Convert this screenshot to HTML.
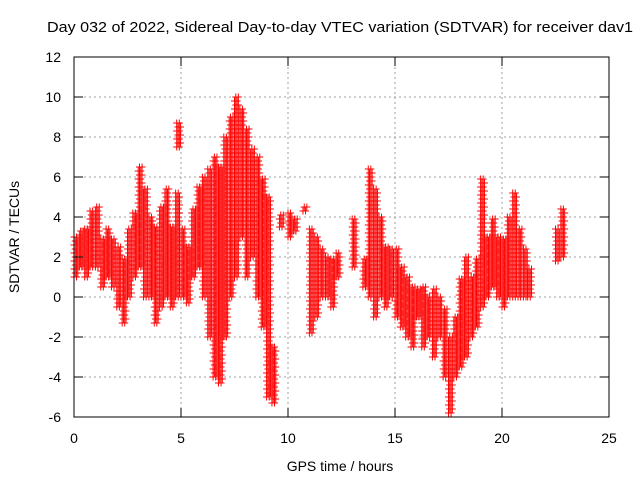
<!DOCTYPE html>
<html><head><meta charset="utf-8"><style>
body{margin:0;background:#fff}
svg{display:block;font-family:"Liberation Sans",sans-serif}
</style></head><body>
<svg id="chart" width="640" height="480" viewBox="0 0 640 480">
<text x="47" y="32" font-size="15" textLength="586" lengthAdjust="spacingAndGlyphs">Day 032 of 2022, Sidereal Day-to-day VTEC variation (SDTVAR) for receiver dav1</text>
<g id="grid"></g>
<g id="marks"></g>
<rect x="74" y="57" width="535" height="360" fill="none" stroke="#000" stroke-width="1"/>
<g id="ticks"></g>
<text x="340" y="471" font-size="14" text-anchor="middle">GPS time / hours</text>
<text x="0" y="0" font-size="14" text-anchor="middle" transform="translate(19,237) rotate(-90)">SDTVAR / TECUs</text>
</svg>
<script>
const xTicks=[0,5,10,15,20,25];
const yTicks=[-6,-4,-2,0,2,4,6,8,10,12];
const times=[0,0.25,0.5,0.75,1,1.25,1.5,1.75,2,2.25,2.5,2.75,3,3.25,3.5,3.75,4,4.25,4.5,4.75,4.8,5,5.25,5.5,5.75,6,6.25,6.5,6.75,7,7.25,7.5,7.75,8,8.25,8.5,8.75,9,9.25,9.6,10,10.25,10.7,11,11.25,11.5,11.75,12,12.25,13,13.5,13.75,14,14.25,14.5,14.75,15,15.25,15.5,15.75,16,16.25,16.5,16.75,17,17.25,17.5,17.75,18,18.25,18.5,18.75,19,19.25,19.5,19.75,20,20.25,20.5,20.75,21,21.2,22.5,22.75];
const lows=[1,1.5,1,1.5,1.5,0.5,1,0.5,-0.5,-1.3,0,1,1.5,0,0,-1.3,-0.5,0,-0.5,0,7.5,0,-0.3,1,1.5,0,-2,-4,-4.3,-2,0,1,3,1,2,0,-1.5,-5,-5.3,3.5,3,3.3,4.3,-1.8,-1,0,0,-0.5,1,1.5,0.5,0,-1,0,-0.5,0,-1,-1.5,-2,-2.5,-1,-2.5,-2,-3,-2,-4,-5.8,-4,-3.5,-3,-2,-1.5,-0.5,0,0.5,0,-0.5,0,0,0,0,0,1.8,2];
const highs=[3,3.3,3.5,4.3,4.5,3,3.5,3,2.5,2,3.5,4.3,6.5,5.5,4,3.5,4.5,5.5,3.5,5.3,8.8,3.5,2.5,4.5,5.5,6,6.5,7,6.5,8,9,10,9.5,8.5,7.5,7,6,5,-2.5,4.2,4.3,4,4.6,3.5,3,2.5,2,2,2.2,4,2,6.5,5.5,4,2.5,2.5,2.5,1.5,1,0.5,0.5,0.5,0,0.5,0,-0.5,-2,-1,1,2,1,2,6,3,4,3,3,4,5.3,3.5,2.5,1.5,3.5,4.5];
const X=t=>74+t*(535/25);
const Y=v=>297-v*20;
const ns="http://www.w3.org/2000/svg";
const grid=document.getElementById('grid'),ticks=document.getElementById('ticks'),marks=document.getElementById('marks');
function ln(p,x1,y1,x2,y2,st,dash){const l=document.createElementNS(ns,'line');l.setAttribute('x1',x1);l.setAttribute('y1',y1);l.setAttribute('x2',x2);l.setAttribute('y2',y2);l.setAttribute('stroke',st);if(dash)l.setAttribute('stroke-dasharray',dash);p.appendChild(l);return l;}
xTicks.forEach(t=>{const x=X(t);
 if(t>0&&t<25){const g=ln(grid,x,57,x,417,'#a0a0a0','2,3');}
 ln(ticks,x,417,x,408,'#000');ln(ticks,x,57,x,66,'#000');
 const tx=document.createElementNS(ns,'text');tx.setAttribute('x',x);tx.setAttribute('y',443);tx.setAttribute('font-size','14');tx.setAttribute('text-anchor','middle');tx.textContent=t;
 
 
 ticks.appendChild(tx);});
yTicks.forEach(v=>{const y=Y(v);
 if(v>-6&&v<12){const g=ln(grid,74,y,609,y,'#a0a0a0','2,3');}
 ln(ticks,74,y,83,y,'#000');ln(ticks,609,y,600,y,'#000');
 const tx=document.createElementNS(ns,'text');tx.setAttribute('x',61);tx.setAttribute('y',y+5);tx.setAttribute('font-size','14');tx.setAttribute('text-anchor','end');tx.textContent=v;
 
 
 ticks.appendChild(tx);});
let d='';
times.forEach((t,i)=>{
 const lo=lows[i],hi=highs[i];
 for(let k=0;k<4;k++){
  const x=X(t+k*0.06);
  const off=(k%2)*0.2;
  for(let v=lo+off;v<=hi+0.001;v+=0.4){
   const y=Y(v);
   d+=`M${x-3.5} ${y}h7M${x} ${y-3.5}v7`;
  }
 }
});
const p=document.createElementNS(ns,'path');
p.setAttribute('d',d);p.setAttribute('stroke','#ff0000');p.setAttribute('stroke-width','1');p.setAttribute('fill','none');


marks.appendChild(p);
</script>
</body></html>
